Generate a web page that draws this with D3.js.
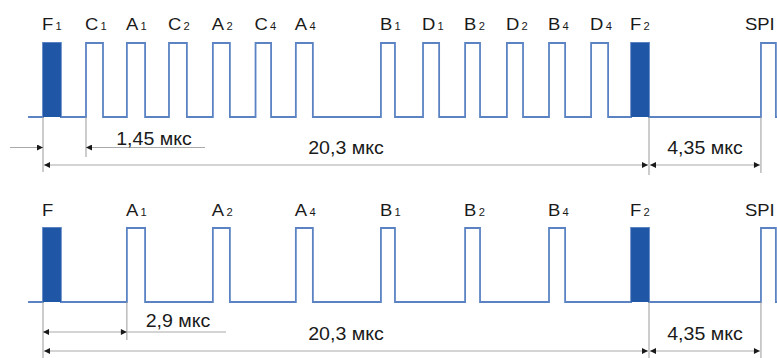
<!DOCTYPE html>
<html><head><meta charset="utf-8">
<script src="https://cdn.jsdelivr.net/npm/d3@7"></script>
<style>html,body{margin:0;padding:0;background:#fff;overflow:hidden}</style>
</head><body><svg id="c" width="777" height="358"></svg>
<script>
// ---- data (time in µs) ----
const topMain  = ["F","C","A","C","A","C","A","B","D","B","D","B","D","F","SPI"];
const topSub   = ["1","1","1","2","2","4","4","1","1","2","2","4","4","2",""];
const topStart = [0, 1.44, 2.81, 4.22, 5.69, 7.12, 8.47, 11.32, 12.73, 14.14, 15.54, 16.95, 18.36, 19.70, 24.05];
const topEnd   = [0.60, 2.01, 3.42, 4.82, 6.26, 7.64, 9.04, 11.79, 13.27, 14.64, 16.08, 17.49, 18.93, 20.30, 24.55];
const topFilled= [true,false,false,false,false,false,false,false,false,false,false,false,false,true,false];

const botMain  = ["F","A","A","A","B","B","B","F","SPI"];
const botSub   = ["","1","2","4","1","2","4","2",""];
const botStart = [0, 2.81, 5.69, 8.47, 11.32, 14.14, 16.95, 19.70, 24.05];
const botEnd   = [0.60, 3.42, 6.26, 9.04, 11.79, 14.64, 17.49, 20.30, 24.55];
const botFilled= [true,false,false,false,false,false,false,true,false];

const topDimLabels = ["1,45 мкс","20,3 мкс","4,35 мкс"];
const botDimLabels = ["2,9 мкс","20,3 мкс","4,35 мкс"];
const topDimFrom = [0, 0, 20.3];
const topDimTo   = [1.44, 20.3, 24.05];
const botDimFrom = [0, 0, 20.3];
const botDimTo   = [2.81, 20.3, 24.05];

// ---- layout ----
const svg = d3.select("#c");
const W = 777, H = 358;
const x = d3.scaleLinear().domain([0, 20.3]).range([43, 649]);
const rows = [
  {main: topMain, sub: topSub, s: topStart, e: topEnd, f: topFilled, y: d3.scaleLinear().domain([0,1]).range([117,43]), labelY: 30,
   dl: topDimLabels, df: topDimFrom, dt: topDimTo, inside: false, dimY1: 147.5, dimY2: 165},
  {main: botMain, sub: botSub, s: botStart, e: botEnd, f: botFilled, y: d3.scaleLinear().domain([0,1]).range([302,228]), labelY: 216,
   dl: botDimLabels, df: botDimFrom, dt: botDimTo, inside: true, dimY1: 332, dimY2: 351}
];
const stroke = "#5b83c3", fillDark = "#1f57a6";
const grey = "#a9a9a9", ext = "#9a9a9a", arrowCol = "#1a1a1a";
const font = "Liberation Sans, Arial, sans-serif";
const SX = 1.12;

const defs = svg.append("defs");
function mk(id, orient){
  defs.append("marker").attr("id", id).attr("viewBox","0 0 10 10").attr("refX",10).attr("refY",5)
    .attr("markerWidth",8).attr("markerHeight",6).attr("markerUnits","userSpaceOnUse").attr("orient",orient)
    .append("path").attr("d","M0,0L10,5L0,10Z").attr("fill",arrowCol);
}
mk("ah","auto"); mk("ahs","auto-start-reverse");

const xEndLine = W + 5;
rows.forEach((r, ri) => {
  const g = svg.append("g");
  // waveform
  const pts = [[-0.5, 0]];
  r.s.forEach((s,i) => { pts.push([s,0],[s,1],[r.e[i],1],[r.e[i],0]); });
  pts.push([x.invert(xEndLine), 0]);
  const line = d3.line().x(d => x(d[0])).y(d => r.y(d[1])).curve(d3.curveLinear);
  g.append("path").attr("d", line(pts)).attr("fill","none").attr("stroke",stroke).attr("stroke-width",1.8);
  // filled pulses
  g.selectAll("rect.f").data(r.s.map((s,i)=>({s, e:r.e[i], f:r.f[i]})).filter(d=>d.f)).join("rect")
    .attr("x", d=>x(d.s)).attr("width", d=>x(d.e)-x(d.s))
    .attr("y", r.y(1)).attr("height", r.y(0)-r.y(1)).attr("fill", fillDark);
  // labels
  r.main.forEach((m,i) => {
    const isSpi = m === "SPI";
    const t = g.append("text").attr("transform", `translate(${x(r.s[i]) - (isSpi ? 16 : 1)},${r.labelY}) scale(${SX},1)`)
      .attr("font-family", font).attr("font-size", 16.5).attr("fill","#1a1a1a");
    t.append("tspan").text(m);
    if (r.sub[i]) t.append("tspan").attr("dx", 2).attr("font-size", 10).text(r.sub[i]);
  });
  // extension lines
  const base = r.y(0);
  const exts = ri === 0
    ? [[0, 172],[1.44, 157],[20.3, 175],[24.05, 173]]
    : [[0, H],[2.81, 340],[20.3, H],[24.05, H]];
  exts.forEach(([t, y2]) => {
    g.append("line").attr("x1", x(t)).attr("x2", x(t)).attr("y1", base).attr("y2", y2)
      .attr("stroke", ext).attr("stroke-width", 1);
  });
  // dimension lines
  r.dl.forEach((lab, i) => {
    const x1 = x(r.df[i]), x2 = x(r.dt[i]);
    let ty, tx;
    if (i === 0 && !r.inside) {
      const yy = r.dimY1;
      g.append("line").attr("x1", 10).attr("x2", x1).attr("y1", yy).attr("y2", yy)
        .attr("stroke", grey).attr("marker-end","url(#ah)");
      g.append("line").attr("x1", 205).attr("x2", x2).attr("y1", yy).attr("y2", yy)
        .attr("stroke", grey).attr("marker-end","url(#ah)");
      tx = 154; ty = yy - 3;
    } else if (i === 0) {
      const yy = r.dimY1;
      g.append("line").attr("x1", x1).attr("x2", x2).attr("y1", yy).attr("y2", yy)
        .attr("stroke", grey).attr("marker-start","url(#ahs)").attr("marker-end","url(#ah)");
      g.append("line").attr("x1", x2).attr("x2", 226).attr("y1", yy).attr("y2", yy).attr("stroke", grey);
      tx = 178; ty = yy - 5;
    } else {
      const yy = r.dimY2;
      g.append("line").attr("x1", x1 + 1).attr("x2", x2 - 1).attr("y1", yy).attr("y2", yy)
        .attr("stroke", grey).attr("marker-start","url(#ahs)").attr("marker-end","url(#ah)");
      tx = (x1 + x2) / 2; ty = yy - 11;
    }
    g.append("text").attr("transform", `translate(${tx},${ty}) scale(${SX},1)`).attr("text-anchor","middle")
      .attr("font-family", font).attr("font-size", 17.5).attr("fill","#1a1a1a").text(lab);
  });
});
</script></body></html>
